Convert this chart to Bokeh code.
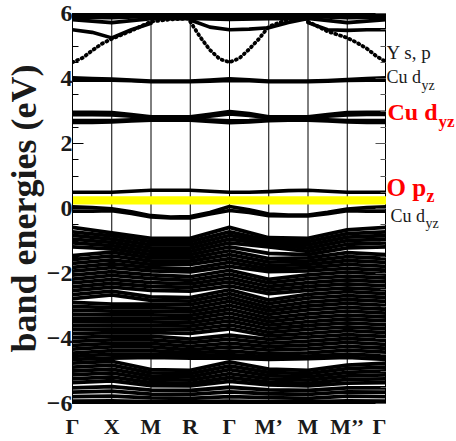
from bokeh.plotting import figure
from bokeh.models import FixedTicker, LinearAxis, Range1d
from bokeh.layouts import row
from bokeh.core.properties import value
from bokeh.embed import file_html
from bokeh.resources import INLINE

# high-symmetry path
k_labels = ["Γ", "X", "M", "R", "Γ", "M’", "M", "M’’", "Γ"]
k_nodes = [0, 1, 2, 3, 4, 5, 6, 7, 8]
k_half = [0, 0.5, 1, 1.5, 2, 2.5, 3, 3.5, 4, 4.5, 5, 5.5, 6, 6.5, 7, 7.5, 8]

# occupied manifold, energies (eV) at Γ X M R Γ M' M M'' Γ
valence_bands = [
    [-0.58, -0.75, -0.92, -0.92, -0.58, -0.90, -0.92, -0.66, -0.58],
    [-0.72, -0.84, -1.02, -1.02, -0.72, -0.98, -1.02, -0.77, -0.72],
    [-0.83, -0.94, -1.12, -1.12, -0.83, -1.04, -1.12, -0.88, -0.83],
    [-0.94, -1.04, -1.22, -1.22, -0.94, -1.10, -1.22, -0.99, -0.94],
    [-1.06, -1.14, -1.32, -1.32, -1.06, -1.18, -1.32, -1.10, -1.06],
    [-1.18, -1.24, -1.42, -1.42, -1.18, -1.38, -1.42, -1.21, -1.18],
    [-1.45, -1.34, -1.52, -1.52, -1.30, -1.54, -1.52, -1.36, -1.42],
    [-1.57, -1.46, -1.62, -1.62, -1.42, -1.65, -1.62, -1.48, -1.54],
    [-1.69, -1.58, -1.72, -1.72, -1.54, -1.76, -1.72, -1.60, -1.66],
    [-1.81, -1.70, -1.82, -1.86, -1.66, -1.86, -1.82, -1.72, -1.78],
    [-1.93, -1.82, -1.92, -1.95, -1.78, -1.94, -1.92, -1.84, -1.90],
    [-2.05, -1.94, -2.04, -2.10, -1.90, -2.18, -2.04, -1.96, -2.02],
    [-2.17, -2.06, -2.16, -2.21, -2.02, -2.29, -2.16, -2.08, -2.14],
    [-2.29, -2.18, -2.28, -2.32, -2.14, -2.40, -2.28, -2.20, -2.26],
    [-2.41, -2.30, -2.40, -2.43, -2.26, -2.51, -2.40, -2.32, -2.38],
    [-2.53, -2.42, -2.52, -2.54, -2.38, -2.62, -2.52, -2.44, -2.50],
    [-2.65, -2.54, -2.72, -2.74, -2.50, -2.82, -2.64, -2.56, -2.62],
    [-2.77, -2.66, -2.83, -2.85, -2.62, -2.93, -2.76, -2.68, -2.74],
    [-2.89, -2.94, -2.94, -2.96, -2.74, -3.04, -2.88, -2.80, -2.86],
    [-3.01, -3.05, -3.05, -3.07, -2.86, -3.15, -3.00, -2.92, -2.98],
    [-3.13, -3.16, -3.16, -3.18, -2.98, -3.26, -3.12, -3.04, -3.10],
    [-3.25, -3.27, -3.27, -3.29, -3.10, -3.37, -3.24, -3.16, -3.22],
    [-3.37, -3.38, -3.38, -3.40, -3.22, -3.48, -3.36, -3.28, -3.34],
    [-3.49, -3.49, -3.49, -3.51, -3.34, -3.59, -3.48, -3.40, -3.46],
    [-3.61, -3.60, -3.60, -3.62, -3.46, -3.70, -3.60, -3.52, -3.58],
    [-3.73, -3.71, -3.71, -3.73, -3.58, -3.81, -3.72, -3.64, -3.70],
    [-3.85, -3.82, -3.82, -3.84, -3.70, -3.92, -3.84, -3.76, -3.82],
    [-3.97, -3.93, -3.93, -4.02, -3.90, -4.03, -3.96, -3.88, -3.94],
    [-4.09, -4.04, -4.04, -4.13, -4.02, -4.14, -4.08, -4.00, -4.06],
    [-4.21, -4.15, -4.15, -4.24, -4.14, -4.25, -4.20, -4.12, -4.18],
    [-4.33, -4.26, -4.26, -4.35, -4.26, -4.36, -4.32, -4.24, -4.30],
    [-4.45, -4.37, -4.37, -4.44, -4.38, -4.47, -4.44, -4.36, -4.42],
    [-4.55, -4.48, -4.48, -4.52, -4.50, -4.56, -4.54, -4.48, -4.54],
    [-4.64, -4.60, -4.58, -4.60, -4.60, -4.64, -4.62, -4.58, -4.64],
    [-4.76, -4.70, -4.96, -4.98, -4.72, -4.94, -4.98, -4.82, -4.76],
    [-4.88, -4.82, -5.06, -5.08, -4.84, -5.04, -5.08, -4.93, -4.88],
    [-5.00, -4.94, -5.16, -5.18, -4.96, -5.14, -5.18, -5.04, -5.00],
    [-5.12, -5.06, -5.26, -5.28, -5.08, -5.24, -5.28, -5.15, -5.12],
    [-5.24, -5.18, -5.36, -5.38, -5.20, -5.34, -5.38, -5.26, -5.24],
    [-5.36, -5.30, -5.45, -5.46, -5.32, -5.43, -5.46, -5.37, -5.36],
    [-5.52, -5.48, -5.59, -5.60, -5.50, -5.58, -5.60, -5.52, -5.52],
    [-5.65, -5.62, -5.71, -5.72, -5.64, -5.70, -5.72, -5.64, -5.65],
    [-5.79, -5.77, -5.83, -5.84, -5.79, -5.82, -5.84, -5.77, -5.79],
    [-5.93, -5.92, -5.94, -5.94, -5.93, -5.94, -5.94, -5.92, -5.93],
]

# bands around the gap, on the half-step path grid
cu_dyz_occ_a = [0.05, 0.03, -0.01, -0.10, -0.22, -0.26, -0.25, -0.12, 0.06,
                -0.04, -0.17, -0.20, -0.20, -0.12, -0.02, 0.03, 0.05]
cu_dyz_occ_b = [-0.08, -0.08, -0.07, -0.15, -0.26, -0.29, -0.29, -0.17, -0.06,
                -0.12, -0.22, -0.23, -0.23, -0.16, -0.07, -0.08, -0.08]
o_pz = [0.50, 0.50, 0.50, 0.53, 0.56, 0.56, 0.56, 0.53, 0.50,
        0.50, 0.52, 0.55, 0.56, 0.53, 0.50, 0.50, 0.50]
cu_dyz_mid_a = [2.96, 2.96, 2.95, 2.89, 2.82, 2.82, 2.82, 2.90, 2.98,
                2.92, 2.82, 2.82, 2.82, 2.89, 2.95, 2.96, 2.96]
cu_dyz_mid_b = [2.89, 2.89, 2.88, 2.84, 2.79, 2.79, 2.79, 2.84, 2.91,
                2.86, 2.79, 2.79, 2.79, 2.84, 2.88, 2.89, 2.89]
cu_dyz_mid_c = [2.71, 2.71, 2.71, 2.73, 2.75, 2.75, 2.75, 2.72, 2.70,
                2.71, 2.74, 2.75, 2.75, 2.73, 2.71, 2.71, 2.71]
cu_dyz_mid_d = [2.65, 2.65, 2.66, 2.69, 2.72, 2.72, 2.72, 2.68, 2.64,
                2.66, 2.70, 2.72, 2.72, 2.69, 2.66, 2.65, 2.65]
cu_dyz_top_a = [4.02, 4.00, 3.98, 3.95, 3.92, 3.92, 3.92, 3.95, 3.99,
                3.96, 3.92, 3.92, 3.92, 3.94, 3.97, 4.00, 4.02]
cu_dyz_top_b = [3.95, 3.95, 3.95, 3.93, 3.90, 3.90, 3.90, 3.92, 3.94,
                3.93, 3.90, 3.90, 3.90, 3.92, 3.94, 3.95, 3.95]

# Y s,p conduction bands (each on its own k segment)
ys_left_k = [0, 0.25, 0.5, 0.75, 1, 1.5, 2, 2.5, 3]
ys_left_e = [4.50, 4.63, 4.86, 5.07, 5.22, 5.47, 5.75, 5.82, 5.85]
ys_left2_k = [0, 0.5, 1, 1.5, 2]
ys_left2_e = [5.50, 5.42, 5.25, 5.50, 5.70]
ys_mid_k = [3, 3.25, 3.5, 3.75, 4, 4.25, 4.5, 4.75, 5, 5.5, 6]
ys_mid_e = [5.75, 5.28, 4.88, 4.60, 4.50, 4.62, 4.90, 5.22, 5.60, 5.82, 5.85]
ys_mid2_k = [3, 3.5, 4, 4.5, 5, 5.5, 6]
ys_mid2_e = [5.80, 5.58, 5.50, 5.52, 5.56, 5.72, 5.85]
ys_right_k = [6, 6.5, 7, 7.25, 7.5, 7.75, 8]
ys_right_e = [5.75, 5.45, 5.25, 5.10, 4.92, 4.68, 4.50]
ys_right2_k = [6, 6.5, 7, 7.5, 8]
ys_right2_e = [5.72, 5.50, 5.48, 5.50, 5.50]
top_bands = [
    [5.97, 5.97, 5.97, 5.97, 5.97, 5.99, 5.97, 5.97, 5.97],
    [5.89, 5.87, 5.91, 5.91, 5.89, 5.93, 5.91, 5.87, 5.89],
    [5.81, 5.72, 5.84, 5.85, 5.82, 5.84, 5.85, 5.72, 5.81],
]

# window highlighted at the Fermi level
fermi_window = [0.12, 0.38]

# orbital-character notes: text, energy of baseline, pixel offset, size, colour, weight
notes = [
    ("Y s, p", 4.80, 0, "19px", "#1a1a1a", "normal"),
    ("Cu d", 4.06, 0, "18px", "#1a1a1a", "normal"),
    ("yz", 3.80, 35, "14px", "#1a1a1a", "normal"),
    ("Cu d", 2.97, 1, "24px", "red", "bold"),
    ("yz", 2.67, 52, "17px", "red", "bold"),
    ("O p", 0.64, 0, "25px", "red", "bold"),
    ("z", 0.37, 40, "18px", "red", "bold"),
    ("Cu d", -0.22, 4, "18px", "#1a1a1a", "normal"),
    ("yz", -0.47, 39, "14px", "#1a1a1a", "normal"),
]

y_major = [-6, -4, -2, 0, 2, 4, 6]
y_minor = [-6 + 0.5 * i for i in range(25)]

SERIF = "Liberation Serif"
INK = "#1a1a1a"
yr = Range1d(-6, 6)

p = figure(width=386, height=441, x_range=Range1d(0, 8), y_range=yr,
           output_backend="svg", toolbar_location=None,
           min_border_left=70, min_border_right=0, min_border_top=13,
           min_border_bottom=37)
p.xgrid.visible = False
p.ygrid.visible = False
p.outline_line_color = "black"
p.outline_line_width = 1

# vertical separators at the high-symmetry points
p.segment(x0=k_nodes[1:-1], y0=[-6] * 7, x1=k_nodes[1:-1], y1=[6] * 7,
          line_color="black", line_width=1)

# Fermi window
p.quad(left=[k_nodes[0]], right=[k_nodes[-1]], bottom=[fermi_window[0]],
       top=[fermi_window[1]], fill_color="#ffff00", line_color=None)

BW = 3.8
p.multi_line(xs=[k_nodes] * len(valence_bands), ys=valence_bands,
             line_color="black", line_width=BW, line_join="round", line_cap="round")
p.multi_line(xs=[k_nodes] * len(top_bands), ys=top_bands,
             line_color="black", line_width=BW, line_join="round", line_cap="round")

half_bands = [cu_dyz_occ_a, cu_dyz_occ_b, o_pz, cu_dyz_mid_a, cu_dyz_mid_b,
              cu_dyz_mid_c, cu_dyz_mid_d, cu_dyz_top_a, cu_dyz_top_b]
p.multi_line(xs=[k_half] * len(half_bands), ys=half_bands,
             line_color="black", line_width=3.6, line_join="round", line_cap="round")

for kk, ee in [(ys_left2_k, ys_left2_e), (ys_mid2_k, ys_mid2_e), (ys_right2_k, ys_right2_e)]:
    p.line(kk, ee, line_color="black", line_width=3.6, line_join="round", line_cap="round")
# steep dispersive branches drawn as dotted tracks
for kk, ee in [(ys_left_k, ys_left_e), (ys_mid_k, ys_mid_e), (ys_right_k, ys_right_e)]:
    p.line(kk, ee, line_color="black", line_width=3.8, line_dash="1 4", line_cap="round")

# axes
p.xaxis.ticker = FixedTicker(ticks=k_nodes)
p.xaxis.major_label_overrides = {k: lab for k, lab in zip(k_nodes, k_labels)}
p.xaxis.major_tick_in = 0
p.xaxis.major_tick_out = 0
p.xaxis.minor_tick_line_color = None
p.xaxis.axis_line_color = None
p.xaxis.major_label_standoff = 10
p.xaxis.major_label_text_font = SERIF
p.xaxis.major_label_text_font_style = "bold"
p.xaxis.major_label_text_font_size = "22px"
p.xaxis.major_label_text_color = INK

p.yaxis.ticker = FixedTicker(ticks=y_major, minor_ticks=y_minor)
p.yaxis.major_tick_in = 11
p.yaxis.major_tick_out = 0
p.yaxis.minor_tick_in = 6
p.yaxis.minor_tick_out = 0
p.yaxis.major_label_standoff = 0
p.yaxis.major_label_text_font = SERIF
p.yaxis.major_label_text_font_style = "bold"
p.yaxis.major_label_text_font_size = "24px"
p.yaxis.major_label_text_color = INK
p.yaxis.axis_label = "band energies (eV)"
p.yaxis.axis_label_text_font = SERIF
p.yaxis.axis_label_text_font_style = "bold"
p.yaxis.axis_label_text_font_size = "36px"
p.yaxis.axis_label_text_color = INK
p.yaxis.axis_label_standoff = 0

right = LinearAxis(ticker=FixedTicker(ticks=y_major, minor_ticks=y_minor),
                   major_label_overrides={v: "" for v in y_major},
                   major_label_standoff=0,
                   major_tick_in=11, major_tick_out=0,
                   minor_tick_in=6, minor_tick_out=0,
                   axis_line_color="#555555", major_tick_line_color="#555555",
                   minor_tick_line_color="#555555")
p.add_layout(right, "right")

# narrow panel to the right carrying the orbital-character notes on the same energy scale
side = figure(width=70, height=441, x_range=Range1d(0, 1), y_range=yr,
              output_backend="svg", toolbar_location=None,
              x_axis_type=None, y_axis_type=None,
              min_border_left=0, min_border_right=0, min_border_top=13,
              min_border_bottom=37)
side.xgrid.visible = False
side.ygrid.visible = False
side.outline_line_color = None
for text, e, dx, size, color, weight in notes:
    side.text(x=[0], y=[e], text=[text], x_offset=dx, text_font=value(SERIF),
              text_font_size=size, text_color=color, text_font_style=weight,
              text_baseline="alphabetic", text_align="left")

layout = row(p, side, spacing=0)
open("out.html", "w").write(file_html(layout, INLINE))
